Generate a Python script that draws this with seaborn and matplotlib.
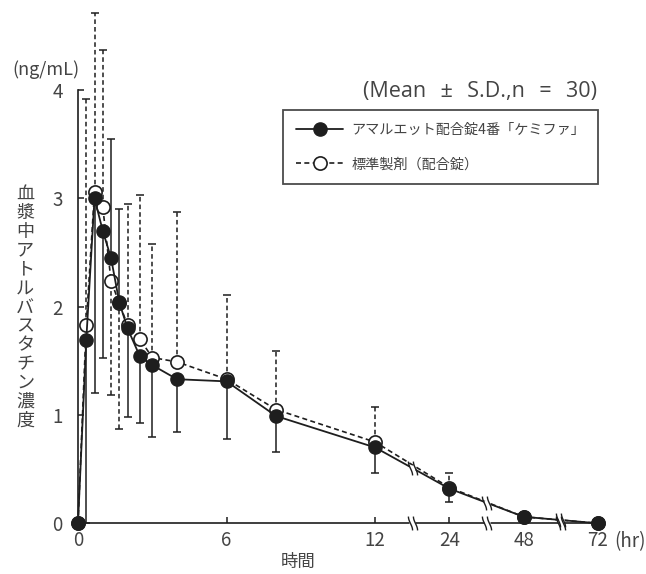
import numpy as np
import matplotlib
matplotlib.use('Agg')
import matplotlib.pyplot as plt
import matplotlib.transforms as mtransforms
from matplotlib.path import Path
import seaborn as sns

# sampling times (hr)
hours = [0, 1/3, 2/3, 1, 4/3, 5/3, 2, 2.5, 3, 4, 6, 8, 12, 24, 48, 72]

# test product (filled circles)
test_label = 'アマルエット配合錠4番「ケミファ」'
test_mean = [0, 1.69, 3.00, 2.70, 2.45, 2.04, 1.80, 1.54, 1.46, 1.33, 1.31, 0.99, 0.70, 0.32, 0.06, 0.0]
test_sd = [0, 1.69, 1.80, 1.17, 1.10, 0.86, 0.82, 0.61, 0.66, 0.49, 0.53, 0.33, 0.24, 0.12, 0, 0]
test_side = ['', 'down', 'down', 'down', 'up', 'up', 'down', 'down', 'down', 'down',
             'down', 'down', 'down', 'down', '', '']

# reference product (open circles)
ref_label = '標準製剤（配合錠）'
ref_mean = [0, 1.83, 3.06, 2.92, 2.24, 2.03, 1.83, 1.70, 1.53, 1.49, 1.33, 1.05, 0.75, 0.33, 0.06, 0.0]
ref_sd = [0, 2.09, 1.65, 1.45, 1.06, 1.16, 1.12, 1.33, 1.05, 1.38, 0.78, 0.54, 0.32, 0.13, 0, 0]
ref_side = ['', 'up', 'up', 'up', 'down', 'down', 'up', 'up', 'up', 'up',
            'up', 'up', 'up', 'up', '', '']

xtick_hours = [0, 6, 12, 24, 48, 72]
break_hours = [18, 36, 60]
ytick_vals = [0, 1, 2, 3, 4]

# broken time axis: 0-12 h linear, then 12-24, 24-48, 48-72 squeezed
seg_hours = [0, 12, 24, 48, 72]
seg_pos = [0, 12, 15, 18, 21]


def to_axis(t):
    return np.interp(np.asarray(t, dtype=float), seg_hours, seg_pos)


def split_err(sd, side):
    lo = [s if d == 'down' else 0 for s, d in zip(sd, side)]
    hi = [s if d == 'up' else 0 for s, d in zip(sd, side)]
    return [lo, hi]


sns.set_style('ticks')
plt.rcParams['font.family'] = ['Noto Sans CJK JP', 'DejaVu Sans']

text_c = '#444444'
ink = '#1e1e1e'
dash = (0, (3, 2))

fig = plt.figure(figsize=(6.46, 5.74), dpi=100)
ax = fig.add_axes([78 / 646, (574 - 523.3) / 574, 520 / 646, 520 / 574])

xm = to_axis(hours)
valid = [i for i in range(len(hours)) if i > 0]

# error bars
eb = ax.errorbar(xm[valid], np.array(ref_mean)[valid],
                 yerr=np.array(split_err(ref_sd, ref_side))[:, valid],
                 fmt='none', ecolor=ink, elinewidth=1.1, capsize=3, capthick=1.1,
                 zorder=2, clip_on=False)
eb[2][0].set_linestyle(dash)
ax.errorbar(xm[valid], np.array(test_mean)[valid],
            yerr=np.array(split_err(test_sd, test_side))[:, valid],
            fmt='none', ecolor=ink, elinewidth=1.1, capsize=3, capthick=1.1,
            zorder=2, clip_on=False)

# mean curves
sns.lineplot(x=xm, y=ref_mean, ax=ax, sort=False, color=ink, linewidth=1.2,
             linestyle=dash, marker='o', markersize=9.5, markerfacecolor='white',
             markeredgecolor=ink, markeredgewidth=1.2, label=ref_label,
             clip_on=False, zorder=3)
ref_line = ax.lines[-1]
sns.lineplot(x=xm, y=test_mean, ax=ax, sort=False, color=ink, linewidth=1.3,
             marker='o', markersize=9.5, markerfacecolor=ink,
             markeredgecolor=ink, markeredgewidth=1.0, label=test_label,
             clip_on=False, zorder=4)
test_line = ax.lines[-1]

ax.set_xlim(0, 21)
ax.set_ylim(0, 4.8)
ax.set_xticks(to_axis(xtick_hours))
ax.set_xticklabels([str(h) for h in xtick_hours])
ax.set_yticks(ytick_vals)
ax.set_yticklabels([str(v) for v in ytick_vals])
ax.tick_params(axis='both', direction='in', length=4, width=1.1, color=ink,
               labelsize=13.5, labelcolor=text_c)
ax.tick_params(axis='x', pad=5)
ax.tick_params(axis='y', pad=11)
ax.set_xlabel('')
ax.set_ylabel('')
for s in ['top', 'right']:
    ax.spines[s].set_visible(False)
for s in ['left', 'bottom']:
    ax.spines[s].set_color(ink)
    ax.spines[s].set_linewidth(1.2)
ax.spines['left'].set_bounds(0, 4)
ax.spines['bottom'].set_bounds(0, 21)

# axis-break marks
yy = np.linspace(-1, 1, 21)
wave = Path(np.column_stack([-0.3 * np.sin(np.pi * yy / 2), yy]))


def draw_break(xb, yb):
    ax.plot([xb], [yb], marker='s', markersize=5, markerfacecolor='white',
            markeredgecolor='none', zorder=6, clip_on=False)
    for dx in (-1.8, 1.8):
        tr = ax.transData + mtransforms.ScaledTranslation(dx / 72, 0, fig.dpi_scale_trans)
        ax.plot([xb], [yb], marker=wave, markersize=10, markerfacecolor='none',
                markeredgecolor=ink, markeredgewidth=1.0, transform=tr,
                zorder=7, clip_on=False)


bx = to_axis(break_hours)
for b in bx:
    draw_break(b, 0)
    draw_break(b, np.interp(b, xm, test_mean))

# legend
leg = ax.legend(handles=[test_line, ref_line], labels=[test_label, ref_label],
                loc='upper right',
                bbox_to_anchor=(598 / 646, 1 - 110 / 574), bbox_transform=fig.transFigure,
                borderaxespad=0, fontsize=10.2, handlelength=3.3, handletextpad=0.6,
                labelspacing=1.45, borderpad=0.9, fancybox=False, frameon=True)
leg.get_frame().set_edgecolor(ink)
leg.get_frame().set_linewidth(1.3)
for t in leg.get_texts():
    t.set_color(text_c)

# texts
fig.text(597 / 646, 1 - 92 / 574, '(Mean\u2002\u2009±\u2002\u2009S.D.,n\u2002\u2009=\u2002\u200930)',
         ha='right', va='center', fontsize=15.5, color=text_c,
         family=['Open Sans', 'DejaVu Sans'])
fig.text(46 / 646, 1 - 70 / 574, '(ng/mL)', ha='center', va='center',
         fontsize=13, color=text_c)
fig.text(298 / 646, 1 - 562 / 574, '時間', ha='center', va='center',
         fontsize=12.5, color=text_c)
fig.text(630 / 646, 1 - 542 / 574, '(hr)', ha='center', va='center',
         fontsize=13.5, color=text_c)
ylab = '血漿中アトルバスタチン濃度'
for i, ch in enumerate(ylab):
    fig.text(25 / 646, 1 - (194 + i * 18.9) / 574, ch, ha='center', va='center',
             fontsize=13, color=text_c)

fig.savefig('out.png', dpi=100)
